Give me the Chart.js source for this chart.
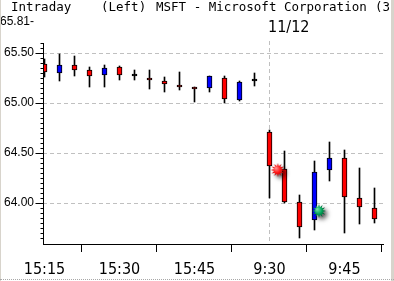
<!DOCTYPE html>
<html>
<head>
<meta charset="utf-8">
<script src="https://cdn.jsdelivr.net/npm/chart.js@4"></script>
<style>
    body { margin: 0; background: #fff; }
    #wrap { position: relative; width: 394px; height: 281px; overflow: hidden; }
    #chart { position: absolute; left: 0; top: 0; }
    .hd { position: absolute; top: 0; font-family: 'DejaVu Sans Mono', monospace; font-size: 12.5px; line-height: 14px; color: #000; white-space: pre; }
    .day { position: absolute; left: 268px; top: 19px; font-family: 'Liberation Sans Narrow', 'DejaVu Sans Condensed', 'Liberation Sans', sans-serif; font-size: 16px; line-height: 16px; }
    .fr-l { position: absolute; left: 0; top: 0; width: 1px; height: 281px; background: #d8d4cc; }
    .fr-r { position: absolute; right: 0; top: 0; width: 3px; height: 281px; background: #d8d4cc; }
    .fr-b { position: absolute; left: 0; top: 279px; width: 394px; height: 0; border-top: 1px dotted #a8a8a8; }
</style>
</head>
<body>
<div id="wrap">
    <canvas id="chart" width="394" height="281"></canvas>
    <span class="hd" style="left:11px">Intraday</span>
    <span class="hd" style="left:101px">(Left)</span>
    <span class="hd" style="left:156px">MSFT - Microsoft Corporation</span>
    <span class="hd" style="left:375px">(3</span>
    <span class="day">11/12</span>
    <div class="fr-l"></div>
    <div class="fr-r"></div>
    <div class="fr-b"></div>
</div>
<script>
// 3分足
const times = ['15:15', '15:18', '15:21', '15:24', '15:27', '15:30', '15:33', '15:36', '15:39', '15:42',
               '15:45', '15:48', '15:51', '15:54', '15:57',
               '9:30', '9:33', '9:36', '9:39', '9:42', '9:45', '9:48', '9:51'];
const openV  = [65.39, 65.30, 65.38, 65.33, 65.28, 65.36, 65.27, 65.25, 65.22, 65.18, 65.16, 65.15, 65.25, 65.03, 65.22,
                64.71, 64.34, 64.01, 63.83, 64.33, 64.45, 64.05, 63.95];
const highV  = [65.44, 65.49, 65.47, 65.36, 65.38, 65.37, 65.33, 65.33, 65.26, 65.31, 65.16, 65.27, 65.27, 65.22, 65.30,
                64.73, 64.52, 64.08, 64.42, 64.61, 64.53, 64.35, 64.15];
const lowV   = [65.26, 65.22, 65.27, 65.16, 65.16, 65.23, 65.23, 65.14, 65.11, 65.13, 65.01, 65.11, 65.00, 65.02, 65.17,
                64.05, 64.00, 63.65, 63.73, 64.22, 63.70, 63.79, 63.80];
const closeV = [65.31, 65.38, 65.33, 65.27, 65.35, 65.28, 65.27, 65.23, 65.19, 65.16, 65.14, 65.27, 65.04, 65.21, 65.22,
                64.37, 64.01, 63.76, 64.31, 64.45, 64.06, 63.96, 63.84];

const xTickIdx = [0, 5, 10, 15, 20];
const yTicks = [64.00, 64.50, 65.00, 65.50, 65.81];
const yMin = 63.59;
const yMax = 65.81;
const dayBreak = 15;

// マーカー（赤・緑）
const markX = [15.55, 18.3];
const markY = [64.33, 63.92];

function starImage(c1, c2, c3) {
    const cv = document.createElement('canvas');
    cv.width = 30; cv.height = 30;
    const g = cv.getContext('2d');
    const cx = 15, cy = 15;
    g.shadowColor = 'rgba(0,0,0,0.65)';
    g.shadowBlur = 4;
    g.shadowOffsetX = 3;
    g.shadowOffsetY = 3;
    const grad = g.createRadialGradient(cx - 2, cy - 2, 0, cx, cy, 7);
    grad.addColorStop(0, c1);
    grad.addColorStop(0.55, c2);
    grad.addColorStop(1, c3);
    g.fillStyle = grad;
    g.beginPath();
    const n = 12;
    for (let k = 0; k < n * 2; k++) {
        const r = k % 2 === 0 ? 7 : 3.8;
        const a = k * Math.PI / n;
        const px = cx + r * Math.cos(a), py = cy + r * Math.sin(a);
        if (k === 0) g.moveTo(px, py); else g.lineTo(px, py);
    }
    g.closePath();
    g.fill();
    return cv;
}
const redStar = starImage('#ff9a9a', '#ff1010', '#a00000');
const greenStar = starImage('#7fe8b0', '#00a458', '#004a26');

const bodyColor = openV.map((o, i) => closeV[i] > o ? '#0000ff' : (closeV[i] < o ? '#ff0000' : '#000000'));

// 軸線・目盛り・日付区切り
const axisPlugin = {
    id: 'axisPlugin',
    beforeDatasetsDraw(chart) {
        const ctx = chart.ctx, x = chart.scales.x, y = chart.scales.y;
        const px = Math.round(x.getPixelForValue(dayBreak)) + 0.5;
        ctx.save();
        ctx.strokeStyle = '#c0c0c0';
        ctx.lineWidth = 1;
        ctx.setLineDash([4, 3]);
        ctx.beginPath();
        ctx.moveTo(px, y.getPixelForValue(65.62));
        ctx.lineTo(px, chart.chartArea.bottom);
        ctx.stroke();
        ctx.restore();
    },
    afterDraw(chart) {
        const ctx = chart.ctx, y = chart.scales.y;
        const left = chart.chartArea.left + 0.5;
        ctx.save();
        ctx.strokeStyle = '#000';
        ctx.lineWidth = 1;
        ctx.beginPath();
        ctx.moveTo(left, y.getPixelForValue(65.60));
        ctx.lineTo(left, chart.chartArea.bottom);
        for (let k = 1; k <= 40; k++) {
            const v = 63.60 + k * 0.05;
            const py = Math.round(y.getPixelForValue(v)) + 0.5;
            const major = k % 10 === 8;
            ctx.moveTo(left - (major ? 8 : 3), py);
            ctx.lineTo(left, py);
        }
        ctx.stroke();
        ctx.restore();
    }
};

const ctx = document.getElementById('chart').getContext('2d');
new Chart(ctx, {
    type: 'bar',
    data: {
        datasets: [
            {
                type: 'scatter',
                data: markX.map((v, i) => ({ x: v, y: markY[i] })),
                pointStyle: [redStar, greenStar],
                order: 0
            },
            {
                data: times.map((t, i) => ({ x: i, y: [openV[i], closeV[i]] })),
                backgroundColor: bodyColor,
                borderColor: '#000',
                borderWidth: 1,
                borderSkipped: false,
                barThickness: 5,
                minBarLength: 2,
                grouped: false,
                order: 1
            },
            {
                data: times.map((t, i) => ({ x: i, y: [lowV[i], highV[i]] })),
                backgroundColor: '#000',
                borderWidth: 0,
                barThickness: 1,
                grouped: false,
                order: 2
            }
        ]
    },
    options: {
        responsive: false,
        animation: false,
        layout: { padding: { top: 22, right: 11, left: 0, bottom: 0 } },
        plugins: {
            legend: { display: false },
            tooltip: { enabled: false }
        },
        scales: {
            x: {
                type: 'linear',
                offset: false,
                min: -0.1,
                max: 22.567,
                afterBuildTicks: (s) => { s.ticks = xTickIdx.map(v => ({ value: v })); },
                afterFit: (s) => { s.height = 37; },
                ticks: {
                    autoSkip: false,
                    maxRotation: 0,
                    padding: 8,
                    color: '#000',
                    font: { family: "'Liberation Sans Narrow', 'DejaVu Sans Condensed', 'Liberation Sans', sans-serif", size: 16 },
                    callback: (v) => times[v]
                },
                grid: { drawOnChartArea: false, tickLength: 8, tickColor: '#000', color: '#000' },
                border: { display: true, color: '#000', width: 1 }
            },
            y: {
                min: yMin,
                max: yMax,
                afterBuildTicks: (s) => { s.ticks = yTicks.map(v => ({ value: v })); },
                afterFit: (s) => { s.width = 43; },
                ticks: {
                    padding: 9,
                    color: '#000',
                    font: { family: "'Liberation Sans', sans-serif", size: 12 },
                    callback: (v) => v === yMax ? v.toFixed(2) + '-' : v.toFixed(2)
                },
                grid: {
                    drawTicks: false,
                    color: (c) => c.tick && c.tick.value === yMax ? 'rgba(0,0,0,0)' : '#c0c0c0'
                },
                border: { display: false, dash: [4, 3] }
            }
        }
    },
    plugins: [axisPlugin]
});
</script>
</body>
</html>
